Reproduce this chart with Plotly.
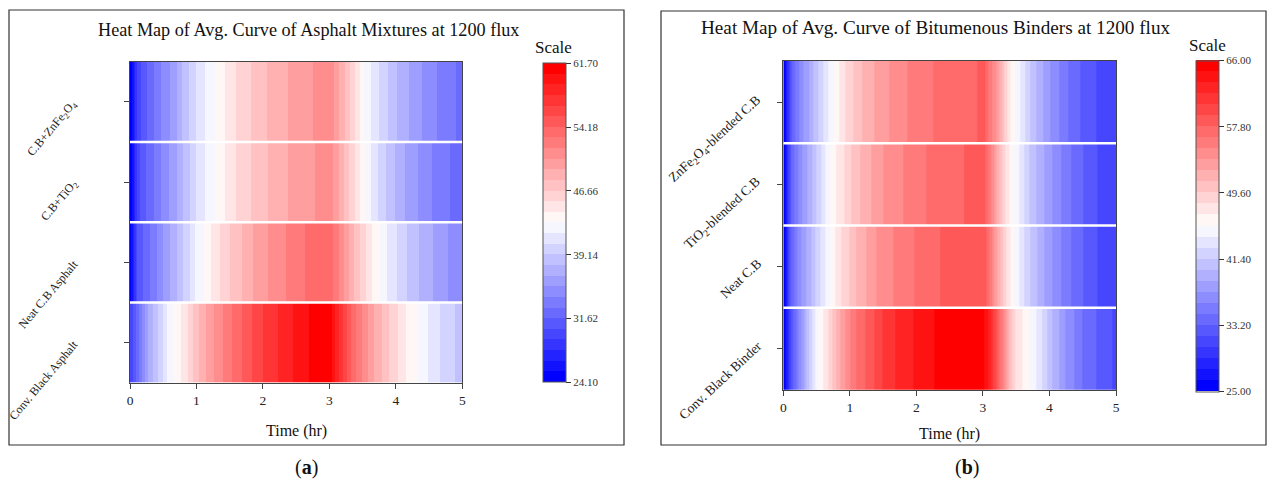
import plotly.graph_objects as go

W, H = 1271, 479

# ---------------- data ----------------
time_hr = [round(i * 0.1, 1) for i in range(51)]

# Panel (a): asphalt mixtures (bottom -> top)
rows_a = ["Conv. Black Asphalt", "Neat C.B Asphalt", "C.B+TiO<sub>2</sub>", "C.B+ZnFe<sub>2</sub>O<sub>4</sub>"]
a_conv = [29.4, 32.0, 35.0, 37.3, 39.0, 40.6, 42.6, 43.6, 44.6, 46.0,
          47.4, 48.7, 49.9, 50.9, 51.8, 52.7, 53.6, 54.4, 55.2, 56.0,
          56.8, 57.3, 57.8, 58.4, 59.0, 59.5, 60.0, 60.5, 61.0, 61.5,
          61.7, 58.6, 56.5, 54.6, 52.9, 51.4, 50.0, 48.8, 47.6, 46.6,
          45.6, 44.6, 43.8, 43.0, 42.2, 41.5, 40.7, 40.1, 39.5, 39.0, 38.5]
a_neat = [24.6, 30.6, 31.7, 33.0, 34.2, 35.6, 36.7, 38.0, 39.3, 40.5,
          41.9, 42.9, 44.0, 45.0, 45.9, 46.7, 47.4, 48.1, 48.9, 49.5,
          50.1, 50.6, 51.0, 51.5, 52.0, 52.4, 52.8, 53.2, 53.6, 53.9,
          54.0, 52.1, 50.7, 49.0, 47.4, 46.0, 44.6, 43.4, 42.3, 41.3,
          40.4, 39.6, 38.9, 38.2, 37.5, 36.9, 36.3, 35.8, 35.3, 34.9, 34.5]
a_tio2 = [24.1, 29.8, 31.2, 32.4, 33.5, 34.6, 35.6, 36.8, 38.1, 39.3,
          40.4, 41.5, 42.3, 43.2, 44.0, 44.8, 45.5, 46.1, 46.6, 47.1,
          47.6, 48.1, 48.5, 48.9, 49.3, 49.6, 49.9, 50.2, 50.5, 51.0,
          51.2, 49.6, 48.1, 46.6, 45.0, 43.2, 41.9, 40.7, 39.6, 38.6,
          37.7, 36.9, 36.2, 35.5, 34.9, 34.3, 33.8, 33.3, 32.9, 32.4, 31.9]
a_znfe = [24.1, 29.6, 31.0, 32.2, 33.4, 34.5, 35.5, 36.8, 38.2, 39.4,
          40.5, 41.5, 42.3, 43.1, 44.0, 44.7, 45.5, 46.0, 46.6, 47.1,
          47.7, 48.1, 48.5, 48.9, 49.3, 49.6, 49.9, 50.2, 50.6, 51.0,
          51.3, 49.8, 48.2, 46.8, 45.0, 43.1, 41.9, 40.8, 39.8, 38.9,
          38.0, 37.2, 36.6, 36.0, 35.3, 34.8, 34.2, 33.7, 33.3, 32.85, 32.5]

# Panel (b): bitumenous binders (bottom -> top)
rows_b = ["Conv. Black Binder", "Neat C.B", "TiO<sub>2</sub>-blended C.B", "ZnFe<sub>2</sub>O<sub>4</sub>-blended C.B"]
b_conv = [25.5, 31.5, 35.0, 38.5, 42.2, 45.0, 46.9, 48.8, 51.3, 53.2,
          55.2, 56.5, 57.6, 58.6, 59.7, 60.7, 61.4, 62.0, 62.5, 63.0,
          63.5, 63.9, 64.4, 64.8, 65.1, 65.4, 65.6, 65.8, 65.9, 66.0,
          65.0, 62.5, 58.8, 54.5, 50.5, 47.8, 46.6, 45.4, 44.0, 42.3,
          40.6, 39.1, 37.8, 36.6, 35.5, 34.5, 33.8, 33.1, 32.5, 32.0, 31.5]
b_neat = [25.2, 33.0, 35.8, 38.0, 40.0, 41.9, 43.8, 45.5, 47.3, 48.7,
          49.9, 51.1, 52.1, 52.9, 53.7, 54.2, 54.8, 55.3, 55.8, 56.2,
          56.6, 57.0, 57.3, 57.7, 57.9, 58.1, 58.3, 58.5, 58.7, 58.9,
          59.0, 56.2, 52.6, 49.3, 47.0, 44.8, 43.0, 41.5, 40.1, 38.8,
          37.7, 36.6, 35.6, 34.7, 33.9, 33.2, 32.5, 31.9, 31.4, 31.0, 30.7]
b_tio2 = [25.0, 32.8, 35.5, 37.6, 39.6, 41.5, 43.7, 45.6, 46.9, 48.2,
          49.5, 50.5, 51.4, 52.3, 53.0, 53.7, 54.2, 54.7, 55.1, 55.5,
          55.9, 56.3, 56.6, 56.9, 57.1, 57.4, 57.6, 57.8, 58.2, 58.5,
          58.8, 55.8, 52.2, 49.0, 46.5, 44.6, 43.0, 41.4, 40.0, 38.7,
          37.6, 36.6, 35.6, 34.7, 33.9, 33.2, 32.5, 31.9, 31.4, 31.0, 30.6]
b_znfe = [25.0, 32.5, 35.2, 37.3, 39.2, 41.0, 43.0, 44.9, 46.4, 47.9,
          49.1, 50.2, 51.1, 51.9, 52.6, 53.2, 53.8, 54.3, 54.8, 55.2,
          55.6, 55.9, 56.3, 56.6, 56.8, 57.0, 57.2, 57.4, 57.6, 57.75,
          58.3, 56.0, 53.5, 50.0, 47.0, 45.0, 43.2, 41.5, 40.0, 38.6,
          37.4, 36.3, 35.3, 34.4, 33.6, 32.9, 32.3, 31.8, 31.3, 30.9, 30.6]

series_a = [a_conv, a_neat, a_tio2, a_znfe]
series_b = [b_conv, b_neat, b_tio2, b_znfe]

scale_a = (24.10, 61.70)
scale_b = (25.00, 66.00)

title_a = "Heat Map of Avg. Curve of Asphalt Mixtures at 1200 flux"
title_b = "Heat Map of Avg. Curve of Bitumenous Binders at 1200 flux"

# ---------------- style helpers ----------------
FONT = "Liberation Serif"
N_LEVELS = 30


def bwr(f):
    if f <= 0.5:
        v = round(255 * 2 * f)
        return f"rgb({v},{v},255)"
    v = round(255 * 2 * (1 - f))
    return f"rgb(255,{v},{v})"


stepped = []
for k in range(N_LEVELS):
    c = bwr(k / (N_LEVELS - 1))
    stepped.append([k / N_LEVELS, c])
    stepped.append([(k + 1) / N_LEVELS, c])


def px(x):
    return x / W


def py(y):
    return 1 - y / H


fig = go.Figure()

panels = [
    dict(series=series_a, rows=rows_a, scale=scale_a, xa="x", ya="y", ca="coloraxis",
         dom_x=(130, 462.3), dom_y=(61.7, 382.7),
         lab_dx=-46, lab_dy=8, lab_size=12, lab_angle=-50),
    dict(series=series_b, rows=rows_b, scale=scale_b, xa="x2", ya="y2", ca="coloraxis2",
         dom_x=(783.3, 1116), dom_y=(61, 390),
         lab_dx=-16, lab_dy=13, lab_size=13.5, lab_angle=-43),
]

for p in panels:
    for i, vals in enumerate(p["series"]):
        fig.add_trace(go.Heatmap(
            x=time_hr, y=[i - 0.25, i + 0.25], z=[vals, vals],
            zsmooth="best", coloraxis=p["ca"], xaxis=p["xa"], yaxis=p["ya"],
            hoverinfo="skip"))
    # white separators between rows
    for i in range(len(p["series"]) - 1):
        fig.add_shape(type="line", xref=p["xa"], yref=p["ya"],
                      x0=time_hr[0], x1=time_hr[-1], y0=i + 0.5, y1=i + 0.5,
                      line=dict(color="white", width=2.5))
    # slanted row labels
    for i, name in enumerate(p["rows"]):
        fig.add_annotation(text=name, xref=p["xa"] + " domain", yref=p["ya"],
                           x=0, y=i, xshift=p["lab_dx"], yshift=p["lab_dy"],
                           xanchor="right", yanchor="top", textangle=p["lab_angle"],
                           showarrow=False,
                           font=dict(family=FONT, size=p["lab_size"], color="#222"))


def cbar(scale, x0, y0, y1):
    lo, hi = scale
    tv = [lo + (hi - lo) * j / 5 for j in range(6)]
    return dict(
        x=px(x0), xanchor="left", y=py(y0), yanchor="top",
        len=(y1 - y0) / H, lenmode="fraction", thickness=23, thicknessmode="pixels",
        xpad=0, ypad=0, outlinewidth=1, outlinecolor="#555",
        tickvals=tv, ticktext=[f"{v:.2f}" for v in tv],
        ticks="outside", ticklen=5, tickcolor="#333", tickwidth=1,
        tickfont=dict(family=FONT, size=11, color="#333"))


axis_common = dict(showline=True, mirror=True, linecolor="#444", linewidth=1,
                   showgrid=False, zeroline=False, ticks="outside", ticklen=5,
                   tickcolor="#444", automargin=False,
                   tickfont=dict(family=FONT, size=13.5, color="#222"))

layout = dict(
    width=W, height=H, margin=dict(l=0, r=0, t=0, b=0, autoexpand=False),
    paper_bgcolor="white", plot_bgcolor="white", showlegend=False,
    font=dict(family=FONT, color="#222"),
    coloraxis=dict(colorscale=stepped, cmin=scale_a[0], cmax=scale_a[1],
                   colorbar=cbar(scale_a, 542.7, 63.3, 382.3)),
    coloraxis2=dict(colorscale=stepped, cmin=scale_b[0], cmax=scale_b[1],
                    colorbar=cbar(scale_b, 1196, 60.5, 391)),
)

for p, sfx in zip(panels, ["", "2"]):
    layout["xaxis" + sfx] = dict(axis_common, domain=[px(p["dom_x"][0]), px(p["dom_x"][1])],
                                 range=[time_hr[0], time_hr[-1]],
                                 tickvals=[0, 1, 2, 3, 4, 5], anchor="y" + sfx)
    layout["yaxis" + sfx] = dict(axis_common, domain=[py(p["dom_y"][1]), py(p["dom_y"][0])],
                                 range=[-0.5, len(p["rows"]) - 0.5],
                                 tickvals=list(range(len(p["rows"]))),
                                 showticklabels=False, anchor="x" + sfx)

fig.update_layout(**layout)

# panel frames
for x0, x1, y0, y1 in [(9, 624, 10, 445), (661, 1266, 11, 445)]:
    fig.add_shape(type="rect", xref="paper", yref="paper",
                  x0=px(x0), x1=px(x1), y0=py(y1), y1=py(y0),
                  line=dict(color="#333", width=1.2), fillcolor="rgba(0,0,0,0)")

ann = [
    (title_a, 308, 30, 18.2),
    (title_b, 936, 28, 19.2),
    ("Scale", 553, 47, 17),
    ("Scale", 1207, 45, 17),
    ("Time (hr)", 296, 431, 16),
    ("Time (hr)", 949, 434, 16),
    ("(<b>a</b>)", 306, 467, 20),
    ("(<b>b</b>)", 967, 467, 20),
]
for text, x, y, size in ann:
    fig.add_annotation(text=text, x=px(x), y=py(y), xref="paper", yref="paper",
                       xanchor="center", yanchor="middle", showarrow=False,
                       font=dict(family=FONT, size=size, color="#111"))

fig.write_html("out.html")
